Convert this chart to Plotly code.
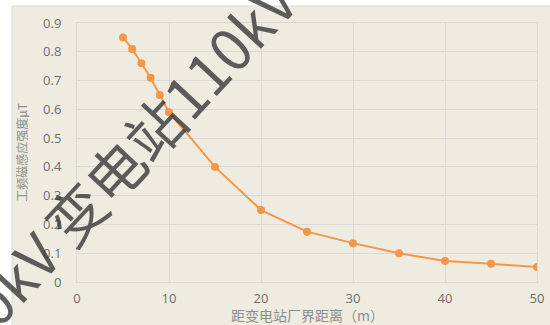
import plotly.graph_objects as go

# Distance from the substation boundary (m) and measured power-frequency magnetic induction (μT)
distance_m = [5, 6, 7, 8, 9, 10, 15, 20, 25, 30, 35, 40, 45, 50]
induction_ut = [0.85, 0.81, 0.76, 0.71, 0.65, 0.59, 0.40, 0.25, 0.175, 0.135, 0.10, 0.073, 0.063, 0.052]

x_ticks = [0, 10, 20, 30, 40, 50]
y_ticks = [0, 0.1, 0.2, 0.3, 0.4, 0.5, 0.6, 0.7, 0.8, 0.9]

x_title = "距变电站厂界距离（m）"
y_title = "工频磁感应强度μT"
watermark = "110kV\u2009变电站110kV"

W, H = 550, 325
ML, MR, MT, MB = 77, 13, 23, 43
PW, PH = W - ML - MR, H - MT - MB

def px_to_paper(px, py):
    return (px - ML) / PW, (H - MB - py) / PH

grid = "#D9D9D9"
tick_font = dict(family="Open Sans, Liberation Sans", size=13, color="#6E6E6E")
cjk = "Noto Sans CJK SC"

fig = go.Figure()
fig.add_trace(go.Scatter(
    x=distance_m, y=induction_ut, mode="lines+markers",
    line=dict(color="#F79646", width=2),
    marker=dict(color="#F79646", size=8),
    showlegend=False,
))

bx0, by1 = px_to_paper(12, 6)
bx1, by0 = px_to_paper(W + 5, H + 5)

wx, wy = px_to_paper(110, 174)
tx, ty = px_to_paper(ML + PW / 2, 315)

fig.update_layout(
    width=W, height=H,
    margin=dict(l=ML, r=MR, t=MT, b=MB, autoexpand=False),
    paper_bgcolor="white",
    plot_bgcolor="rgba(0,0,0,0)",
    shapes=[dict(type="rect", xref="paper", yref="paper", layer="below",
                 x0=bx0, x1=bx1, y0=by0, y1=by1,
                 fillcolor="#EEECE1", line=dict(color="#D9D9D9", width=1))],
    xaxis=dict(range=[0, 50], tickvals=x_ticks, showgrid=True, gridcolor=grid,
               gridwidth=1, zeroline=False, showline=True, linecolor=grid,
               mirror=True, tickfont=tick_font, ticks="outside", ticklen=4,
               tickcolor="rgba(0,0,0,0)", automargin=False),
    yaxis=dict(range=[0, 0.9], tickvals=y_ticks, ticktext=[f"{v:g}" for v in y_ticks],
               showgrid=True, gridcolor=grid, gridwidth=1, zeroline=False,
               showline=True, linecolor=grid, mirror=True, tickfont=tick_font,
               ticks="outside", ticklen=12, tickcolor="rgba(0,0,0,0)", automargin=False,
               title=dict(text=y_title, font=dict(family=cjk, size=12, color="#8C8C8C"), standoff=12)),
    annotations=[
        dict(text=x_title, xref="paper", yref="paper", x=tx, y=ty,
             xanchor="center", yanchor="middle", showarrow=False,
             font=dict(family=cjk, size=14, color="#8C8C8C")),
        dict(text=watermark, xref="paper", yref="paper", x=wx, y=wy,
             xanchor="center", yanchor="middle", showarrow=False,
             textangle=-47, opacity=0.78,
             font=dict(family=cjk, size=58, color="#333333")),
    ],
)

fig.write_html("out.html")
